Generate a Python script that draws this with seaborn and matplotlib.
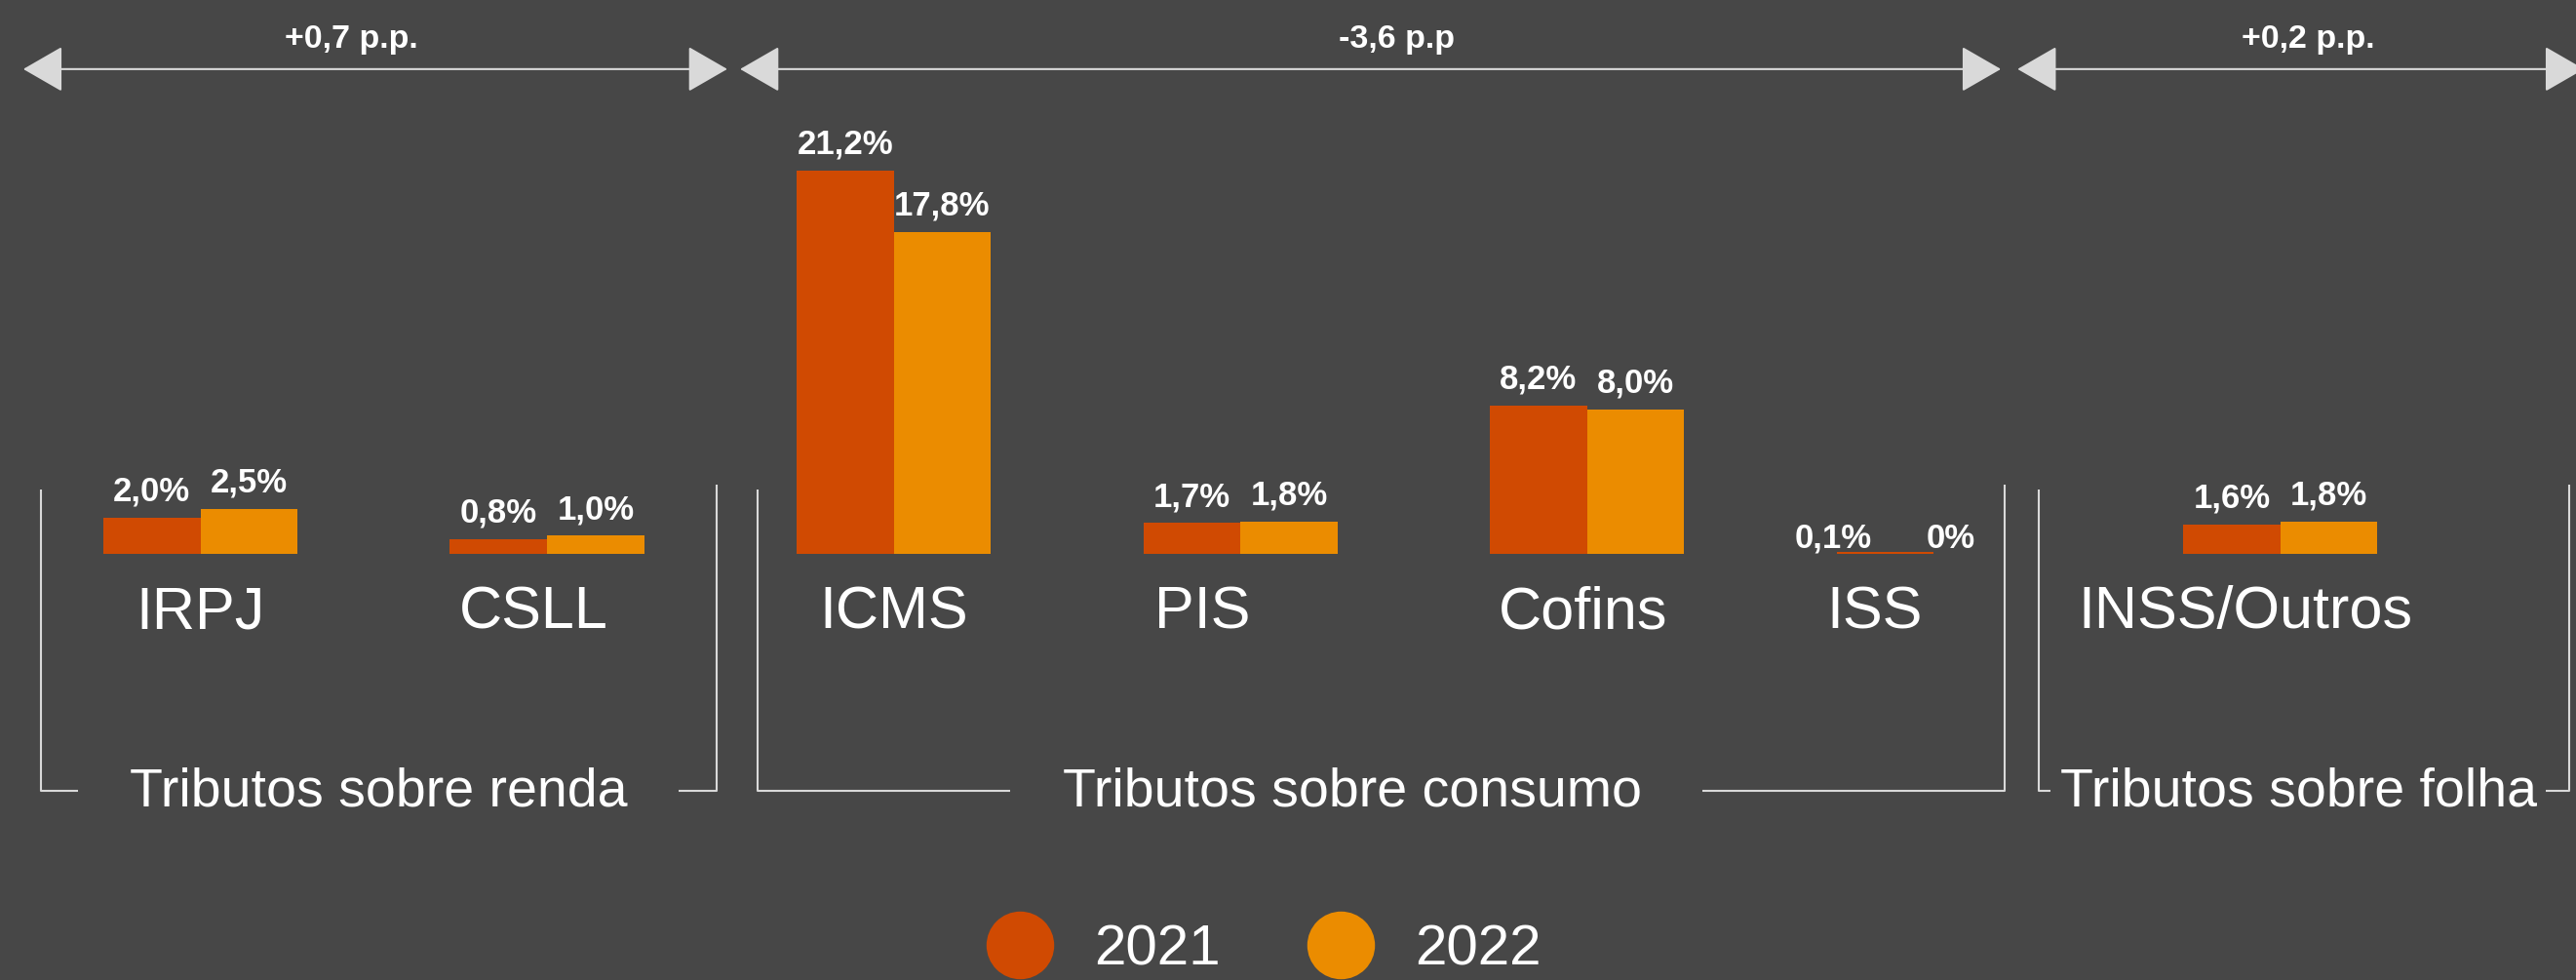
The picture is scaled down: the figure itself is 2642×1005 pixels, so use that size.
import pandas as pd
import matplotlib.pyplot as plt
import seaborn as sns
from matplotlib.lines import Line2D
from matplotlib.patches import FancyArrowPatch

# data
tributos = ['IRPJ', 'CSLL', 'ICMS', 'PIS', 'Cofins', 'ISS', 'INSS/Outros']
valores_2021 = [2.0, 0.8, 21.2, 1.7, 8.2, 0.1, 1.6]
valores_2022 = [2.5, 1.0, 17.8, 1.8, 8.0, 0.0, 1.8]
anos = ['2021', '2022']

grupos = ['Tributos sobre renda', 'Tributos sobre consumo', 'Tributos sobre folha']
variacoes = ['+0,7 p.p.', '-3,6 p.p', '+0,2 p.p.']

BG = '#474747'
cores = ['#D04A02', '#EB8C00']
LINHA = '#D9D9D9'

df = pd.DataFrame({
    'tributo': tributos * 2,
    'valor': valores_2021 + valores_2022,
    'ano': [anos[0]] * len(tributos) + [anos[1]] * len(tributos),
})

sns.set_style('white')
plt.rcParams['font.family'] = ['Liberation Sans', 'DejaVu Sans']

fig = plt.figure(figsize=(26.42, 10.05), dpi=100, facecolor=BG)
ax = fig.add_axes([0, 0, 1, 1])
sns.barplot(data=df, x='tributo', y='valor', hue='ano', palette=cores,
            width=0.56, gap=0, saturation=1, legend=False, linewidth=0,
            edgecolor='none', ax=ax)
ax.set_xlim(-0.578, 6.853)
ax.set_ylim(-23.56, 30.62)
ax.axis('off')


def fmt(v):
    if v == 0:
        return '0%'
    return f'{v:.1f}'.replace('.', ',') + '%'


for j, cont in enumerate(ax.containers):
    rotulos = ax.bar_label(cont, labels=[fmt(b.get_height()) for b in cont], padding=7.5,
                           color='white', fontsize=25, fontweight='bold')
    # ISS labels sit a bit apart and lower in the original
    iss = rotulos[5]
    iss.xy = (iss.xy[0] + (-0.15 if j == 0 else -0.09), -0.6)

# category names (small nudges to follow the original layout)
nudge = [0, -0.04, 0, -0.11, -0.01, -0.17, -0.10]
for i, t in enumerate(tributos):
    ax.text(i + nudge[i], -4.1, t, ha='center', va='baseline', fontsize=44, color='white')

# group brackets
spans = [(-0.461, 1.489), (1.607, 5.204), (5.302, 6.834)]
gaps = [(-0.353, 1.380), (2.336, 4.333), (5.338, 6.766)]
centros = [0.513, 3.323, 6.052]
y_base = -13.1
for (x0, x1), (g0, g1), xc, nome in zip(spans, gaps, centros, grupos):
    ax.plot([x0, x0, g0], [3.56, y_base, y_base], color=LINHA, lw=1.5, solid_capstyle='butt')
    ax.plot([g1, x1, x1], [y_base, y_base, 3.83], color=LINHA, lw=1.5, solid_capstyle='butt')
    ax.text(xc, -13.95, nome, ha='center', va='baseline', fontsize=40, color='white')

# top arrows with the change in p.p.
setas = [(-0.511, 1.520), (1.557, 5.194), (5.242, 6.876)]
x_var = [0.437, 3.45, 6.08]
for (x0, x1), xt, txt in zip(setas, x_var, variacoes):
    seta = FancyArrowPatch((x0, 26.8), (x1, 26.8),
                           arrowstyle='<|-|>,head_length=2.6,head_width=1.5',
                           mutation_scale=10, color=LINHA, lw=1.5,
                           shrinkA=0, shrinkB=0)
    ax.add_patch(seta)
    ax.text(xt, 28.0, txt, ha='center', va='baseline', fontsize=24.5,
            fontweight='bold', color='white')

handles = [Line2D([], [], marker='o', ls='', markersize=50, markerfacecolor=c,
                  markeredgewidth=0) for c in cores]
fig.legend(handles, anos, loc='center', bbox_to_anchor=(0.4905, 0.0303), ncol=2,
           frameon=False, fontsize=42, handlelength=1.2, handletextpad=0.70,
           columnspacing=1.51, labelcolor='white')

fig.savefig('out.png', dpi=100, facecolor=BG)
